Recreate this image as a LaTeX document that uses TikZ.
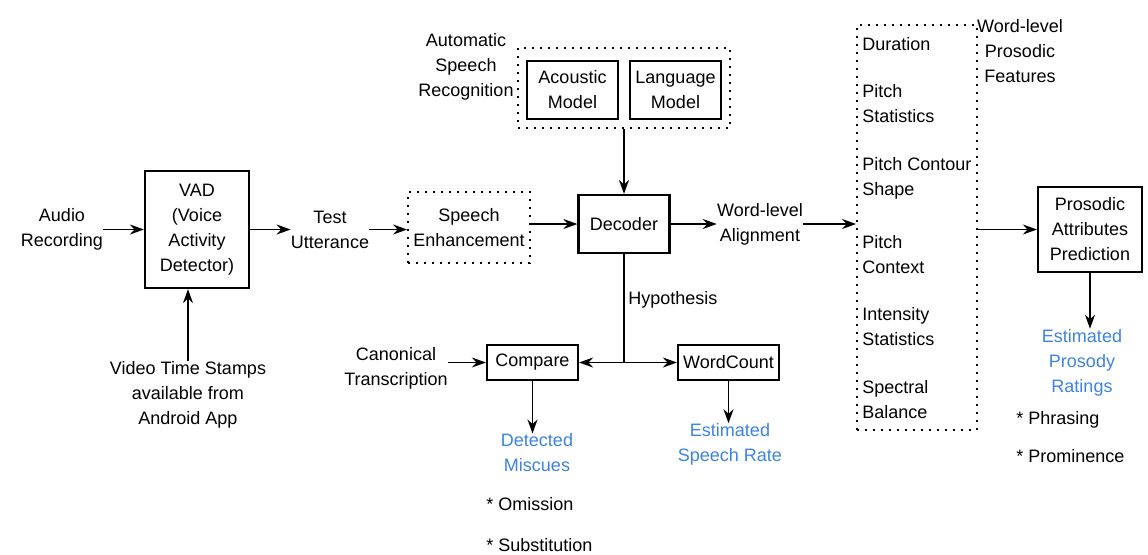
\documentclass[tikz,border=0pt]{standalone}
\usepackage{fontspec}
\setmainfont{Liberation Sans}
\usetikzlibrary{arrows.meta}
\definecolor{outblue}{RGB}{60,130,232}
\tikzset{
  blk/.style={draw, line width=1.1pt, align=center, inner sep=0pt},
  dotbox/.style={draw, line width=0.9pt, dash pattern=on 1pt off 3pt, inner sep=0pt},
  lbl/.style={align=center, inner sep=0pt},
  outlbl/.style={lbl, text=outblue},
  arr/.style={-{Stealth[length=7pt,width=5pt]}, line width=0.9pt},
}
\begin{document}
\begin{tikzpicture}[x=0.5pt, y=-0.5pt, font=\fontsize{9}{12.5}\selectfont]
  \useasboundingbox (0,0) rectangle (1148,554);

  % front end
  \node [lbl] (audio) at (62,229.5) {Audio\\Recording};
  \node [blk, minimum width=52pt, minimum height=58.5pt] (vad) at (197,229.5) {VAD\\(Voice\\Activity\\Detector)};
  \node [lbl] (video) at (188,395) {Video Time Stamps\\available from\\Android App};
  \node [lbl] (test) at (330,229.5) {Test\\Utterance};
  \node [dotbox, align=center, minimum width=61pt, minimum height=35.5pt] (enh) at (469,227.5) {Speech\\Enhancement};

  % recogniser
  \node [dotbox, minimum width=106pt, minimum height=40pt] (asr) at (624,88) {};
  \node [blk, minimum width=45.5pt, minimum height=29pt] (am) at (572.5,90) {Acoustic\\Model};
  \node [blk, minimum width=45.5pt, minimum height=29pt] (lm) at (675.5,90) {Language\\Model};
  \node [lbl] (asrlbl) at (466,67) {Automatic\\Speech\\Recognition};
  \node [blk, minimum width=45.5pt, minimum height=29pt] (dec) at (624,224) {Decoder};
  \node [lbl] (wla) at (760,224) {Word-level\\Alignment};

  % miscues and rate
  \coordinate (hypj) at (624,362.5);
  \node [lbl, anchor=west] (hyp) at (628,300) {Hypothesis};
  \node [blk, minimum width=45.5pt, minimum height=17.5pt] (cmp) at (532.5,362.5) {Compare};
  \node [blk, minimum width=50.5pt, minimum height=17.5pt] (wc) at (728.5,362.5) {WordCount};
  \node [lbl] (canon) at (396,368) {Canonical\\Transcription};
  \node [outlbl] (miscues) at (537,453) {Detected\\Miscues};
  \node [lbl, anchor=west] (omi) at (486,504) {* Omission};
  \node [lbl, anchor=west] (subs) at (486,545) {* Substitution};
  \node [outlbl] (rate) at (730,444.5) {Estimated\\Speech Rate};

  % prosody
  \node [dotbox, minimum width=60pt, minimum height=202.5pt] (feat) at (917,227.5) {};
  \foreach \y/\t [count=\i] in {44/Duration, 104/{Pitch\\Statistics}, 178/{Pitch Contour\\Shape},
      255/{Pitch\\Context}, 326.5/{Intensity\\Statistics}, 400/{Spectral\\Balance}}
    \node [lbl, align=left, anchor=west] (f\i) at (862,\y) {\t};
  \node [lbl] (featlbl) at (1020,51) {Word-level\\Prosodic\\Features};
  \node [blk, minimum width=52pt, minimum height=42.5pt] (pap) at (1090,229.5) {Prosodic\\Attributes\\Prediction};
  \node [outlbl] (ratings) at (1082,362.5) {Estimated\\Prosody\\Ratings};
  \node [lbl, anchor=west] (phr) at (1016,420) {* Phrasing};
  \node [lbl, anchor=west] (prom) at (1016,456) {* Prominence};

  \draw [arr] (audio.east) -- (vad.west);
  \draw [arr] (video.north) -- (video.north |- vad.south);
  \draw [arr] (vad.east) -- (test.west);
  \draw [arr] (test.east) -- (test.east -| enh.west);
  \draw [arr] (enh.east |- dec.west) -- (dec.west);
  \draw [arr] (asr.south) -- (dec.north);
  \draw [arr] (dec.east) -- (wla.west);
  \draw [arr] (wla.east) -- (wla.east -| feat.west);
  \draw [line width=0.9pt] (dec.south) -- (hypj);
  \draw [arr] (hypj) -- (cmp.east);
  \draw [arr] (hypj) -- (wc.west);
  \draw [arr] (canon.east |- cmp.west) -- (cmp.west);
  \draw [arr] (cmp.south) -- (cmp.south |- miscues.north);
  \draw [arr] (wc.south) -- (wc.south |- rate.north);
  \draw [arr] (feat.east |- pap.west) -- (pap.west);
  \draw [arr] (pap.south) -- (pap.south |- ratings.north);
\end{tikzpicture}
\end{document}
